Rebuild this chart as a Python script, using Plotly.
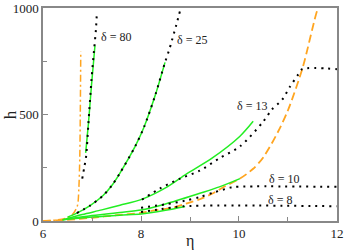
import plotly.graph_objects as go

# --- data ---
eta_d80 = [6.80, 6.84, 6.88, 6.925, 6.99, 7.04, 7.08, 7.10]
h_d80 = [199, 250, 305, 454, 667, 800, 900, 985]
eta_g80 = [6.87, 6.925, 6.99, 7.06]
h_g80 = [320, 454, 640, 824]

eta_d25 = [6.69, 6.96, 7.22, 7.40, 7.57, 7.88, 8.06, 8.29, 8.49, 8.57, 8.63, 8.72, 8.80]
h_d25 = [37, 72, 118, 165, 225, 350, 440, 590, 745, 800, 847, 920, 990]
eta_g25 = [6.50, 6.69, 6.96, 7.22, 7.40, 7.57, 7.88, 8.06, 8.29, 8.49]
h_g25 = [18, 37, 72, 118, 165, 225, 350, 440, 590, 745]

eta_d13 = [8.02, 8.39, 8.80, 9.20, 9.61, 10.02, 10.50, 10.67, 10.88, 11.04, 11.20, 11.29, 12.0]
h_d13 = [100, 153, 199, 236, 296, 350, 468, 523, 569, 630, 685, 713, 713]
eta_g13 = [6.40, 6.80, 7.20, 7.57, 8.00, 8.50, 8.93, 9.45, 10.02, 10.29]
h_g13 = [5, 30, 52, 74, 100, 155, 221, 295, 398, 468]

eta_d10 = [8.0, 8.5, 8.9, 9.2, 9.5, 9.8, 9.9, 12.0]
h_d10 = [62, 78, 95, 112, 135, 155, 160, 160]
eta_g10 = [6.40, 7.0, 7.57, 8.0, 8.5, 9.2, 9.6, 10.02]
h_g10 = [5, 25, 40, 51, 80, 130, 160, 199]

eta_d8 = [8.0, 8.4, 8.85, 12.0]
h_d8 = [42, 55, 69, 69]
eta_g8 = [6.40, 7.0, 7.57, 8.0, 8.5, 8.9]
h_g8 = [5, 18, 27, 32, 50, 68]

eta_dash = [6.0, 6.5, 7.0, 7.5, 8.0, 8.24, 8.65, 8.94, 9.2, 9.47, 9.67, 10.02, 10.29, 10.5, 10.8, 11.0, 11.3, 11.6, 11.63]
h_dash = [0, 5, 15, 27, 38, 48, 62, 83, 102, 130, 157, 199, 245, 300, 420, 520, 720, 990, 1000]

eta_dd = [6.0, 6.3, 6.5, 6.6, 6.7, 6.73, 6.75, 6.76, 6.77]
h_dd = [0, 5, 15, 30, 70, 150, 300, 500, 796]

labels = ["δ = 80", "δ = 25", "δ = 13", "δ = 10", "δ = 8"]
label_eta = [7.14, 8.70, 9.92, 10.91, 10.84]
label_h = [862, 852, 541, 199, 97]
label_anchor = ["left", "left", "left", "center", "center"]

x_ticks = [6, 8, 10, 12]
y_ticks = [0, 500, 1000]

GREEN = "#22EE22"
ORANGE = "#FFA520"
DOT = "2px,5px"
SERIF = "Liberation Serif, Times New Roman, serif"

fig = go.Figure()

def add(x, y, color, dash, width):
    fig.add_trace(go.Scatter(x=x, y=y, mode="lines",
                             line=dict(color=color, dash=dash, width=width, shape="spline", smoothing=0.8),
                             showlegend=False, hoverinfo="skip"))

add(eta_dd, h_dd, ORANGE, "7px,3px,2px,3px", 1.5)
add(eta_dash, h_dash, ORANGE, "8px,4px", 1.8)
for x, y in [(eta_g80, h_g80), (eta_g25, h_g25), (eta_g13, h_g13), (eta_g10, h_g10), (eta_g8, h_g8)]:
    add(x, y, GREEN, "solid", 1.5)
for x, y in [(eta_d80, h_d80), (eta_d25, h_d25), (eta_d13, h_d13), (eta_d10, h_d10), (eta_d8, h_d8)]:
    add(x, y, "black", DOT, 2)

for t, x, y, a in zip(labels, label_eta, label_h, label_anchor):
    fig.add_annotation(x=x, y=y, text=t, showarrow=False, xanchor=a, yanchor="middle",
                       font=dict(family=SERIF, size=12, color="#222"))

# axis titles as annotations for exact placement
fig.add_annotation(x=9, y=0, xref="x", yref="y", yshift=-20, text="η", showarrow=False,
                   yanchor="middle", font=dict(family=SERIF, size=16, color="#222"))
fig.add_annotation(x=-0.11, y=500, xref="paper", yref="y", text="h", showarrow=False,
                   textangle=-90, xanchor="center", yanchor="middle",
                   font=dict(family=SERIF, size=17, color="#222"))

axis_common = dict(showline=True, linecolor="#888", linewidth=1.5, mirror=True,
                   ticks="inside", ticklen=5, tickcolor="#888", tickwidth=1,
                   showgrid=False, zeroline=False, automargin=False,
                   ticklabeloverflow="allow",
                   tickfont=dict(family=SERIF, size=13, color="#222"))

fig.update_xaxes(range=[5.999, 12.001], tickvals=x_ticks,
                 minor=dict(tickvals=[7, 9, 11], ticks="inside", ticklen=4, tickcolor="#888"),
                 **axis_common)
fig.update_yaxes(range=[-0.3, 1000.3], tickvals=y_ticks,
                 minor=dict(tickvals=[250, 750], ticks="inside", ticklen=4, tickcolor="#888"),
                 **axis_common)

fig.update_layout(width=345, height=250, margin=dict(l=43, r=8, t=8, b=29),
                  plot_bgcolor="white", paper_bgcolor="white")

fig.write_html("out.html", config={"displayModeBar": False},
               post_script="document.body.style.margin='0';document.body.style.overflow='hidden';")
